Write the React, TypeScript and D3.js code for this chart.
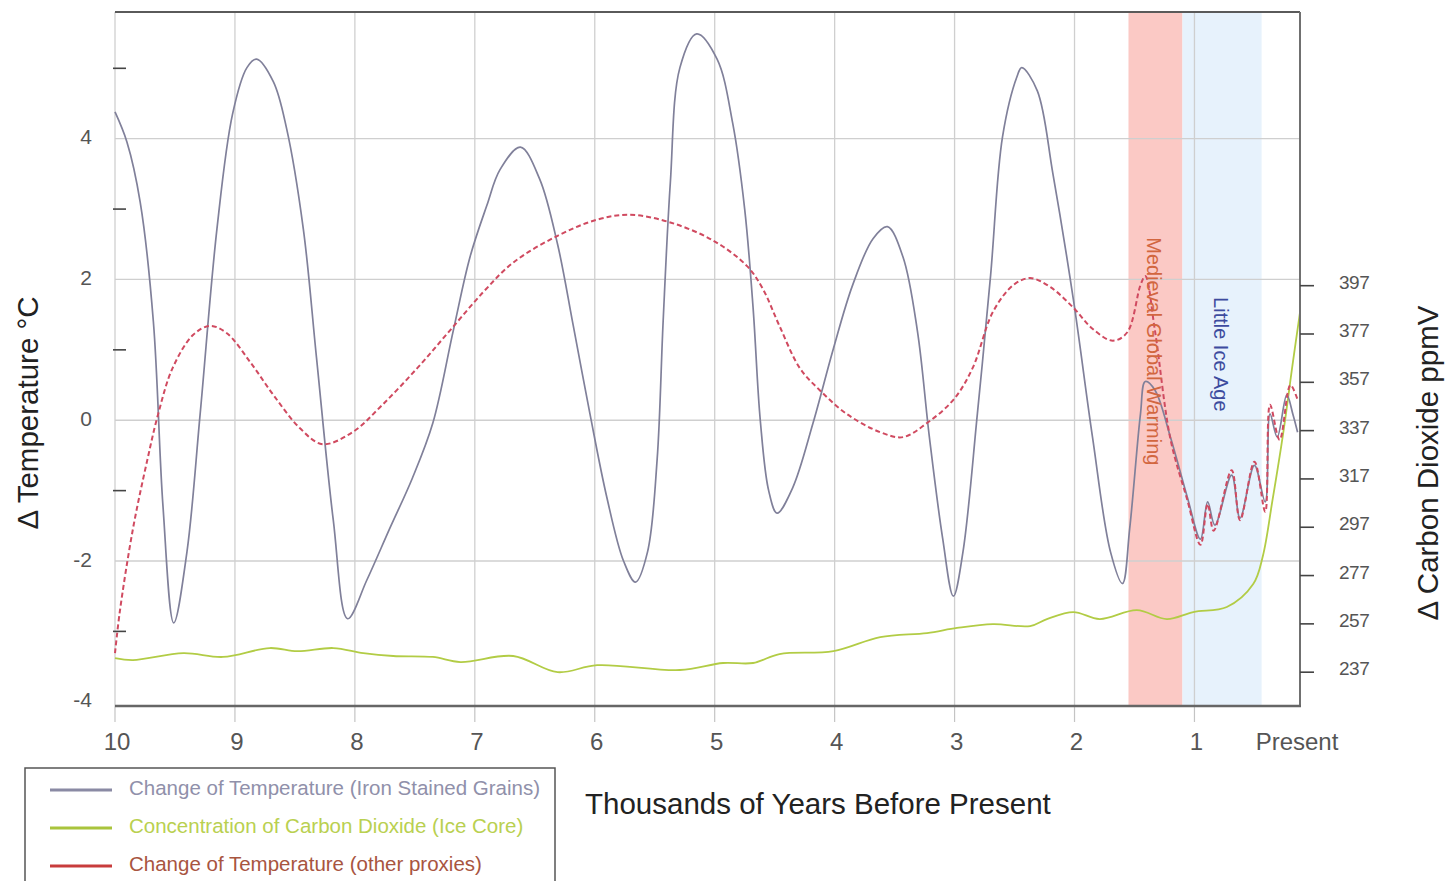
import React, { useEffect, useRef } from 'react';
import * as d3 from 'd3';

// thousands of years before present
const xTicks = [10, 9, 8, 7, 6, 5, 4, 3, 2, 1];
const tempLabels = [-4, -2, 0, 2, 4];
const tempMinor = [-3, -1, 1, 3, 5];
const co2Ticks = [237, 257, 277, 297, 317, 337, 357, 377, 397];

// Change of Temperature (Iron Stained Grains)
const ironYears = [10.0, 9.9, 9.79, 9.68, 9.6, 9.51, 9.4, 9.29, 9.15, 9.02, 8.9, 8.82, 8.68, 8.57, 8.43, 8.32, 8.18, 8.06, 7.9, 7.71, 7.52, 7.35, 7.18, 7.04, 6.9, 6.79, 6.62, 6.46, 6.31, 6.18, 6.04, 5.9, 5.76, 5.66, 5.56, 5.48, 5.43, 5.37, 5.29, 5.15, 4.98, 4.85, 4.75, 4.68, 4.62, 4.55, 4.48, 4.35, 4.18, 4.01, 3.85, 3.68, 3.56, 3.43, 3.31, 3.21, 3.1, 3.01, 2.93, 2.81, 2.7, 2.6, 2.48, 2.44, 2.31, 2.18, 2.01, 1.85, 1.7, 1.6, 1.54, 1.45, 1.41, 1.33, 1.2, 1.06, 0.95, 0.89, 0.83, 0.69, 0.62, 0.5, 0.41, 0.37, 0.31, 0.23, 0.18, 0.14];
const ironTemp = [4.38, 3.95, 3.1, 1.4, -1.22, -2.88, -1.87, 0.09, 2.72, 4.35, 5.01, 5.13, 4.81, 4.15, 2.72, 0.89, -1.42, -2.82, -2.27, -1.54, -0.82, -0.04, 1.27, 2.32, 3.05, 3.56, 3.88, 3.43, 2.5, 1.35, 0.09, -1.09, -2.0, -2.3, -1.87, -0.56, 1.4, 3.37, 5.01, 5.49, 5.13, 4.22, 3.0, 1.6, 0.0, -1.0, -1.32, -0.96, -0.04, 1.02, 1.92, 2.58, 2.75, 2.32, 1.27, -0.24, -1.67, -2.5, -1.87, 0.09, 2.05, 4.03, 4.88, 5.01, 4.68, 3.5, 1.72, -0.24, -1.87, -2.32, -1.54, 0.09, 0.55, 0.43, -0.24, -1.09, -1.69, -1.16, -1.49, -0.78, -1.39, -0.64, -1.16, 0.09, -0.24, 0.36, 0.09, -0.17];

// Change of Temperature (other proxies)
const proxyYears = [10.0, 9.96, 9.85, 9.73, 9.64, 9.52, 9.35, 9.21, 9.07, 8.87, 8.68, 8.46, 8.27, 8.02, 7.77, 7.48, 7.21, 6.93, 6.68, 6.31, 5.98, 5.71, 5.37, 5.01, 4.73, 4.6, 4.46, 4.29, 4.12, 3.9, 3.62, 3.43, 3.23, 3.01, 2.85, 2.68, 2.51, 2.37, 2.2, 2.01, 1.85, 1.68, 1.56, 1.45, 1.41, 1.33, 1.2, 1.06, 0.95, 0.89, 0.84, 0.69, 0.62, 0.5, 0.41, 0.37, 0.29, 0.2, 0.14];
const proxyTemp = [-3.31, -2.72, -1.54, -0.56, 0.09, 0.74, 1.21, 1.34, 1.24, 0.82, 0.36, -0.11, -0.34, -0.17, 0.22, 0.74, 1.27, 1.82, 2.24, 2.62, 2.85, 2.92, 2.81, 2.55, 2.19, 1.87, 1.34, 0.74, 0.42, 0.09, -0.17, -0.24, -0.04, 0.29, 0.74, 1.54, 1.92, 2.02, 1.89, 1.6, 1.3, 1.13, 1.25, 1.92, 2.05, 1.28, -0.27, -1.13, -1.77, -1.19, -1.57, -0.71, -1.42, -0.59, -1.3, 0.22, -0.28, 0.5, 0.29];

// Concentration of Carbon Dioxide (Ice Core), ppmV
const co2Years = [10.0, 9.85, 9.43, 9.1, 8.71, 8.48, 8.18, 7.93, 7.68, 7.35, 7.12, 6.68, 6.31, 5.98, 5.29, 4.93, 4.68, 4.46, 4.01, 3.62, 3.23, 2.98, 2.68, 2.37, 2.23, 2.01, 1.79, 1.48, 1.23, 1.01, 0.73, 0.51, 0.43, 0.35, 0.26, 0.18, 0.12];
const co2Ppm = [242.8, 242.0, 244.9, 243.3, 247.0, 245.7, 247.0, 244.9, 243.7, 243.3, 241.2, 243.7, 237.0, 239.9, 237.9, 240.8, 240.8, 244.5, 245.7, 251.5, 253.2, 255.3, 256.9, 256.1, 259.0, 261.9, 259.0, 262.7, 259.0, 261.9, 264.0, 273.5, 285, 308, 336, 365, 386];

// shaded periods
const periods = ['Medieval Global Warming', 'Little Ice Age'];
const periodStart = [1.55, 1.1];
const periodEnd = [1.1, 0.44];
const periodLabelTemp = [2.6, 1.75];

const legendLabels = [
  'Change of Temperature (Iron Stained Grains)',
  'Concentration of Carbon Dioxide (Ice Core)',
  'Change of Temperature (other proxies)',
];

const App = () => {
  const svgRef = useRef<SVGSVGElement>(null);

  useEffect(() => {
    const width = 1448;
    const height = 881;
    const marginLeft = 115;
    const marginRight = 148;
    const marginTop = 12;
    const marginBottom = 175;
    const x0 = marginLeft;
    const x1 = width - marginRight;
    const yTop = marginTop;
    const yBottom = height - marginBottom;
    const font = "'Liberation Sans', Arial, sans-serif";

    const x = d3.scaleLinear().domain([10, 0.12]).range([x0, x1]);
    const yT = d3.scaleLinear().domain([-4.06, 5.8]).range([yBottom, yTop]);
    const yC = d3.scaleLinear().domain([223, 510.3]).range([yBottom, yTop]);

    const svg = d3.select(svgRef.current)
      .attr('width', width)
      .attr('height', height)
      .attr('viewBox', `0 0 ${width} ${height}`);
    svg.selectAll('*').remove();

    svg.append('rect').attr('width', width).attr('height', height).attr('fill', '#fff');

    // shaded periods
    const bandFill = ['#fbc9c5', '#e7f2fc'];
    svg.append('g').selectAll('rect').data(periods).join('rect')
      .attr('x', (d, i) => x(periodStart[i]))
      .attr('width', (d, i) => x(periodEnd[i]) - x(periodStart[i]))
      .attr('y', yTop)
      .attr('height', yBottom - yTop)
      .attr('fill', (d, i) => bandFill[i]);

    // grid
    const grid = svg.append('g').attr('stroke', '#cfcfcf').attr('stroke-width', 1.3);
    grid.selectAll('.v').data(xTicks).join('line')
      .attr('x1', d => x(d)).attr('x2', d => x(d))
      .attr('y1', yTop).attr('y2', yBottom);
    grid.selectAll('.h').data(tempLabels.filter(d => d > -4)).join('line')
      .attr('x1', x0).attr('x2', x1)
      .attr('y1', d => yT(d)).attr('y2', d => yT(d));

    // x tick marks below the axis
    svg.append('g').attr('stroke', '#c4c4c4').attr('stroke-width', 1.2)
      .selectAll('line').data(xTicks).join('line')
      .attr('x1', d => x(d)).attr('x2', d => x(d))
      .attr('y1', yBottom).attr('y2', yBottom + 16);

    // series
    const line = d3.line<[number, number]>()
      .x(d => x(d[0]))
      .y(d => yT(d[1]))
      .curve(d3.curveCatmullRom.alpha(0.5));
    const co2Line = d3.line<[number, number]>()
      .x(d => x(d[0]))
      .y(d => yC(d[1]))
      .curve(d3.curveCatmullRom.alpha(0.5));

    svg.append('path')
      .datum(d3.zip(co2Years, co2Ppm) as [number, number][])
      .attr('fill', 'none')
      .attr('stroke', '#b2cc45')
      .attr('stroke-width', 1.8)
      .attr('d', co2Line);

    svg.append('path')
      .datum(d3.zip(ironYears, ironTemp) as [number, number][])
      .attr('fill', 'none')
      .attr('stroke', '#80809a')
      .attr('stroke-width', 1.7)
      .attr('d', line);

    svg.append('path')
      .datum(d3.zip(proxyYears, proxyTemp) as [number, number][])
      .attr('fill', 'none')
      .attr('stroke', '#d04a60')
      .attr('stroke-width', 2)
      .attr('stroke-dasharray', '5,3')
      .attr('d', line);

    // period labels
    const labelColor = ['#d2663f', '#3d4b9e'];
    svg.append('g').selectAll('text').data(periods).join('text')
      .attr('transform', (d, i) =>
        `translate(${(x(periodStart[i]) + x(periodEnd[i])) / 2 - 3},${yT(periodLabelTemp[i])}) rotate(90)`)
      .attr('dominant-baseline', 'middle')
      .attr('font-family', font)
      .attr('font-size', 20)
      .attr('fill', (d, i) => labelColor[i])
      .text(d => d);

    // frame
    svg.append('line').attr('x1', x0).attr('x2', x1).attr('y1', yTop).attr('y2', yTop)
      .attr('stroke', '#5a5a5a').attr('stroke-width', 2);
    svg.append('line').attr('x1', x1).attr('x2', x1).attr('y1', yTop).attr('y2', yBottom)
      .attr('stroke', '#707070').attr('stroke-width', 2);
    svg.append('line').attr('x1', x0).attr('x2', x1 + 1).attr('y1', yBottom).attr('y2', yBottom)
      .attr('stroke', '#666').attr('stroke-width', 2.5);

    // left axis
    svg.append('g').attr('stroke', '#444').attr('stroke-width', 1.6)
      .selectAll('line').data(tempMinor).join('line')
      .attr('x1', x0 - 2).attr('x2', x0 + 11)
      .attr('y1', d => yT(d)).attr('y2', d => yT(d));
    svg.append('g').selectAll('text').data(tempLabels).join('text')
      .attr('x', 92)
      .attr('y', d => yT(d))
      .attr('text-anchor', 'end')
      .attr('dominant-baseline', 'middle')
      .attr('font-family', font)
      .attr('font-size', 21)
      .attr('fill', '#555')
      .text(d => String(d));

    // right axis
    svg.append('g').attr('stroke', '#444').attr('stroke-width', 1.6)
      .selectAll('line').data(co2Ticks).join('line')
      .attr('x1', x1).attr('x2', x1 + 14)
      .attr('y1', d => yC(d)).attr('y2', d => yC(d));
    svg.append('g').selectAll('text').data(co2Ticks).join('text')
      .attr('x', x1 + 39)
      .attr('y', d => yC(d) - 2)
      .attr('dominant-baseline', 'middle')
      .attr('font-family', font)
      .attr('font-size', 19)
      .attr('letter-spacing', -0.5)
      .attr('fill', '#555')
      .text(d => String(d));

    // bottom axis labels
    svg.append('g').selectAll('text').data(xTicks).join('text')
      .attr('x', d => x(d) + 2)
      .attr('y', yBottom + 38)
      .attr('text-anchor', 'middle')
      .attr('dominant-baseline', 'middle')
      .attr('font-family', font)
      .attr('font-size', 24)
      .attr('fill', '#555')
      .text(d => String(d));
    svg.append('text')
      .attr('x', x1 - 3)
      .attr('y', yBottom + 38)
      .attr('text-anchor', 'middle')
      .attr('dominant-baseline', 'middle')
      .attr('font-family', font)
      .attr('font-size', 24)
      .attr('fill', '#555')
      .text('Present');

    // axis titles
    svg.append('text')
      .attr('transform', `translate(30,${(yTop + yBottom) / 2 + 54}) rotate(-90)`)
      .attr('text-anchor', 'middle')
      .attr('dominant-baseline', 'middle')
      .attr('font-family', font)
      .attr('font-size', 29.5)
      .attr('fill', '#222')
      .text('Δ Temperature °C');
    svg.append('text')
      .attr('transform', `translate(1430,${(yTop + yBottom) / 2 + 104}) rotate(-90)`)
      .attr('text-anchor', 'middle')
      .attr('dominant-baseline', 'middle')
      .attr('font-family', font)
      .attr('font-size', 29.5)
      .attr('fill', '#222')
      .text('Δ Carbon Dioxide ppmV');
    svg.append('text')
      .attr('x', 585)
      .attr('y', 806)
      .attr('dominant-baseline', 'middle')
      .attr('font-family', font)
      .attr('font-size', 29.5)
      .attr('fill', '#222')
      .text('Thousands of Years Before Present');

    // legend
    const legendLine = ['#8a8aa4', '#a9c43c', '#c83c3c'];
    const legendText = ['#9090aa', '#b9d050', '#a8553f'];
    const legend = svg.append('g');
    legend.append('rect')
      .attr('x', 25).attr('y', 768).attr('width', 530).attr('height', 130)
      .attr('fill', '#fff').attr('stroke', '#555').attr('stroke-width', 1.5);
    const item = legend.selectAll('g').data(legendLabels).join('g')
      .attr('transform', (d, i) => `translate(0,${790 + i * 38})`);
    item.append('line')
      .attr('x1', 50).attr('x2', 112)
      .attr('stroke', (d, i) => legendLine[i])
      .attr('stroke-width', 3);
    item.append('text')
      .attr('x', 129)
      .attr('dominant-baseline', 'middle')
      .attr('font-family', font)
      .attr('font-size', 20.5)
      .attr('fill', (d, i) => legendText[i])
      .text(d => d);
  }, []);

  return (
    <div>
      <style>{'body{margin:0}'}</style>
      <svg ref={svgRef}></svg>
    </div>
  );
};

export default App;
